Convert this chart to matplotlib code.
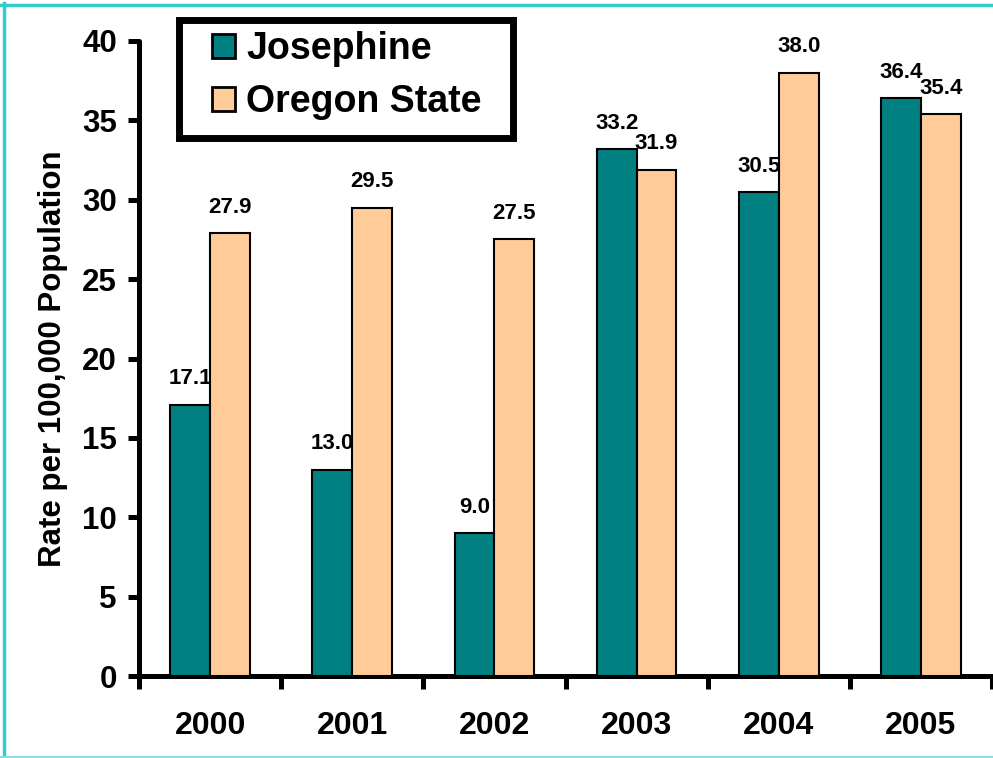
import matplotlib
matplotlib.use("Agg")
import matplotlib.pyplot as plt
from matplotlib.lines import Line2D
from matplotlib.patches import Rectangle
from matplotlib.ticker import FixedLocator

years = ["2000", "2001", "2002", "2003", "2004", "2005"]
josephine = [17.1, 13.0, 9.0, 33.2, 30.5, 36.4]
oregon = [27.9, 29.5, 27.5, 31.9, 38.0, 35.4]

TEAL = "#008080"
PEACH = "#FFCC99"
CYAN = "#33CCCC"

plt.rcParams["font.family"] = ["Liberation Sans", "DejaVu Sans"]
plt.rcParams["font.weight"] = "bold"

fig = plt.figure(figsize=(9.93, 7.58), dpi=100)
ax = fig.add_axes([139 / 993, 1 - 676 / 758, 853 / 993, (676 - 41) / 758])

x = list(range(len(years)))
w = 0.28
xj = [i - w / 2 for i in x]
xo = [i + w / 2 for i in x]
ax.bar(xj, josephine, w, color=TEAL, edgecolor="black", linewidth=1.5,
       label="Josephine", zorder=3)
ax.bar(xo, oregon, w, color=PEACH, edgecolor="black", linewidth=1.5,
       label="Oregon State", zorder=3)

for xs, vals in ((xj, josephine), (xo, oregon)):
    for xi, v in zip(xs, vals):
        ax.annotate(f"{v:.1f}", (xi, v), xytext=(0, 11), textcoords="offset points",
                    ha="center", va="bottom", fontsize=16, fontweight="bold")

ax.set_xlim(-0.5, len(years) - 0.5)
ax.set_ylim(0, 40)
ax.set_yticks(range(0, 41, 5))
ax.set_xticks(x)
ax.set_xticklabels(years, fontsize=23, fontweight="bold")
ax.xaxis.set_minor_locator(FixedLocator([i - 0.5 for i in range(len(years) + 1)]))
ax.tick_params(axis="x", which="major", length=0, pad=25)
ax.tick_params(axis="x", which="minor", length=9, width=3.6, direction="out")
ax.tick_params(axis="y", length=8, width=3.6, direction="out", labelsize=22.5, pad=8)
for lab in ax.get_yticklabels():
    lab.set_fontweight("bold")

for s in ("top", "right"):
    ax.spines[s].set_visible(False)
for s in ("left", "bottom"):
    ax.spines[s].set_linewidth(3.6)
    ax.spines[s].set_capstyle("round")
ax.set_ylabel("Rate per 100,000 Population", fontsize=22.5, fontweight="bold", labelpad=10)

# legend drawn without its own frame, box added separately
leg = ax.legend(loc="upper left", bbox_to_anchor=(212 / 993, 1 - 31 / 758),
                bbox_transform=fig.transFigure, fontsize=27, frameon=False,
                borderpad=0, handlelength=0.62, handleheight=0.62, handletextpad=0.3,
                borderaxespad=0, labelspacing=0.45)
for t in leg.get_texts():
    t.set_fontweight("bold")
for h in leg.legend_handles:
    h.set_linewidth(2)
fig.add_artist(Rectangle((178.5 / 993, 1 - 137.5 / 758), 334 / 993, 118 / 758,
                         fill=False, edgecolor="black", linewidth=5,
                         transform=fig.transFigure, zorder=5))

# cyan frame around picture
fig.add_artist(Line2D([3.5 / 993, 3.5 / 993], [0, 1 - 3 / 758], color=CYAN, lw=2.5,
                      transform=fig.transFigure))
fig.add_artist(Line2D([0, 1], [1 - 4.5 / 758, 1 - 4.5 / 758], color=CYAN, lw=2.5,
                      transform=fig.transFigure))
fig.add_artist(Line2D([0, 1], [1.5 / 758, 1.5 / 758], color="#88DDDD", lw=1.5,
                      transform=fig.transFigure))

fig.savefig("out.png", dpi=100)
